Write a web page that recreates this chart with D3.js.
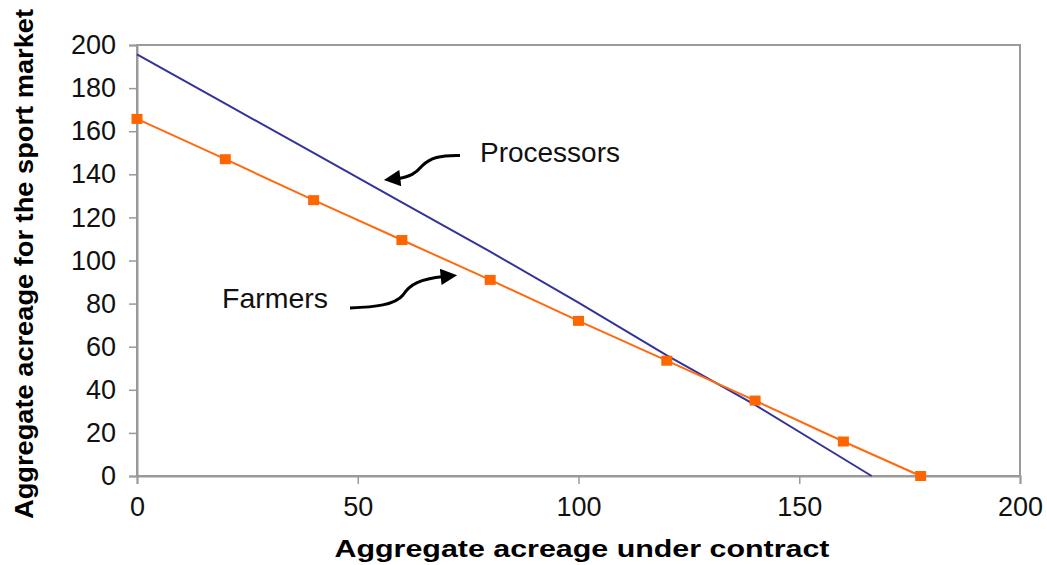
<!DOCTYPE html>
<html>
<head>
<meta charset="utf-8">
<script src="https://cdn.jsdelivr.net/npm/d3@7"></script>
<style>
  html, body { margin: 0; padding: 0; background: #fff; }
  svg { display: block; font-family: "Liberation Sans", Arial, sans-serif; }
</style>
</head>
<body>
<svg id="chart" width="1047" height="565"></svg>
<script>
// ---- data ----
const xTicks = [0, 50, 100, 150, 200];
const yTicks = [0, 20, 40, 60, 80, 100, 120, 140, 160, 180, 200];
const farmersX = [0, 20, 40, 60, 80, 100, 120, 140, 160, 177.5];
const farmersY = [165.7, 147, 128, 109.5, 91, 72, 53.5, 35, 16, 0];
const processorsX = [0, 20, 40, 60, 80, 100, 120, 140, 160, 166.4];
const processorsY = [195.7, 172.8, 149.9, 127, 104.1, 80.5, 56, 33, 8, 0];
const xTitle = "Aggregate acreage under contract";
const yTitle = "Aggregate acreage for the sport market";
const labelProcessors = "Processors";
const labelFarmers = "Farmers";

// ---- layout ----
const svg = d3.select("#chart");
const L = 137, R = 1020, T = 45, B = 476;
const x = d3.scaleLinear().domain([0, 200]).range([L, R]);
const y = d3.scaleLinear().domain([0, 200]).range([B, T]);
const axisColor = "#9a9a9a";

// plot frame
svg.append("rect")
  .attr("x", L).attr("y", T).attr("width", R - L).attr("height", B - T)
  .attr("fill", "none").attr("stroke", axisColor).attr("stroke-width", 2);

// axes
const gy = svg.append("g").attr("transform", `translate(${L},0)`)
  .call(d3.axisLeft(y).tickValues(yTicks).tickSize(8).tickPadding(13).tickFormat(d3.format("d")));
const gx = svg.append("g").attr("transform", `translate(0,${B})`)
  .call(d3.axisBottom(x).tickValues(xTicks).tickSize(8).tickPadding(12).tickFormat(d3.format("d")));
[gx, gy].forEach(g => {
  g.select(".domain").attr("stroke", axisColor).attr("stroke-width", 2);
  g.selectAll(".tick line").attr("stroke", axisColor).attr("stroke-width", 1.5);
  g.selectAll(".tick text").attr("fill", "#111").style("font-size", "27px")
    .style("font-family", "'Liberation Sans', Arial, sans-serif");
});
gx.selectAll(".tick text").attr("dy", "0.72em").attr("y", 21);

// axis titles
svg.append("text")
  .attr("x", 582).attr("y", 557)
  .attr("text-anchor", "middle")
  .attr("font-weight", "bold").attr("font-size", 24)
  .attr("textLength", 495).attr("lengthAdjust", "spacingAndGlyphs")
  .attr("fill", "#000")
  .text(xTitle);
svg.append("text")
  .attr("transform", "translate(33,264) rotate(-90)")
  .attr("text-anchor", "middle")
  .attr("font-weight", "bold").attr("font-size", 25)
  .attr("textLength", 510).attr("lengthAdjust", "spacingAndGlyphs")
  .attr("fill", "#000")
  .text(yTitle);

// lines
const line = d3.line().x(d => x(d[0])).y(d => y(d[1]));
const procData = d3.zip(processorsX, processorsY);
const farmData = d3.zip(farmersX, farmersY);

svg.append("path").datum(procData)
  .attr("d", line).attr("fill", "none")
  .attr("stroke", "#33339a").attr("stroke-width", 2);

svg.append("path").datum(farmData)
  .attr("d", line).attr("fill", "none")
  .attr("stroke", "#ff6a10").attr("stroke-width", 2);

const ms = 11;
svg.selectAll("rect.mk").data(farmData).enter().append("rect")
  .attr("class", "mk")
  .attr("x", d => x(d[0]) - ms / 2).attr("y", d => y(d[1]) - 5)
  .attr("width", ms).attr("height", 10)
  .attr("fill", "#ff6600");

// annotations
const defs = svg.append("defs");
defs.append("marker")
  .attr("id", "ah").attr("viewBox", "0 0 10 10")
  .attr("refX", 2).attr("refY", 5)
  .attr("markerWidth", 7).attr("markerHeight", 5.5)
  .attr("markerUnits", "strokeWidth")
  .attr("orient", "auto")
  .append("path").attr("d", "M0,0 L10,5 L0,10 Z").attr("fill", "#000");

svg.append("path")
  .attr("d", "M460,155.5 C440,155 430,158 422,166 C416,173 410,177 397,178.5")
  .attr("fill", "none").attr("stroke", "#000").attr("stroke-width", 3)
  .attr("marker-end", "url(#ah)");
svg.append("path")
  .attr("d", "M350,308 C375,307 395,305 403,295 C410,284 420,279 444,276.5")
  .attr("fill", "none").attr("stroke", "#000").attr("stroke-width", 3)
  .attr("marker-end", "url(#ah)");

svg.append("text")
  .attr("x", 480).attr("y", 162)
  .attr("font-size", 27).attr("fill", "#111")
  .attr("textLength", 140).attr("lengthAdjust", "spacingAndGlyphs")
  .text(labelProcessors);
svg.append("text")
  .attr("x", 222).attr("y", 308)
  .attr("font-size", 28).attr("fill", "#111")
  .attr("textLength", 106).attr("lengthAdjust", "spacingAndGlyphs")
  .text(labelFarmers);
</script>
</body>
</html>
